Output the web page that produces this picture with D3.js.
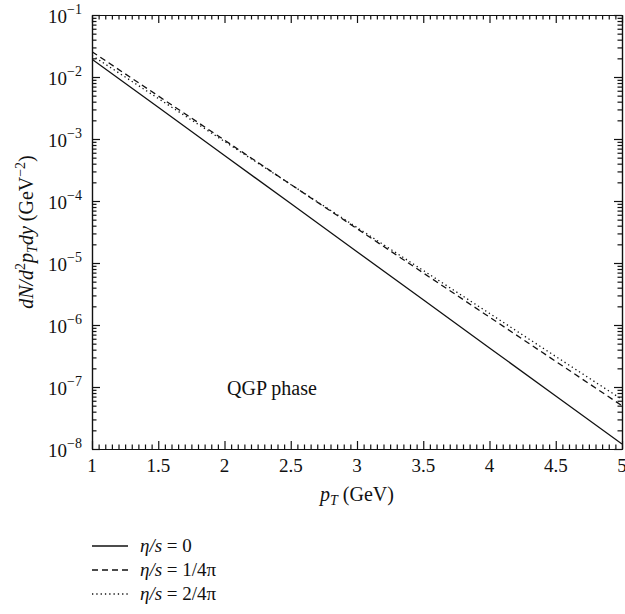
<!DOCTYPE html>
<html>
<head>
<meta charset="utf-8">
<script src="https://cdn.jsdelivr.net/npm/d3@7"></script>
<style>
  html, body { margin: 0; padding: 0; background: #fff; }
  svg { display: block; }
  text { font-family: "Liberation Serif", "DejaVu Serif", serif; fill: #111; }
</style>
</head>
<body>
<svg id="chart" width="625" height="614"></svg>
<script>
// Transverse momentum grid (GeV)
const pT = [1, 1.5, 2, 2.5, 3, 3.5, 4, 4.5, 5];

// Photon spectra dN/d^2p_T dy (GeV^-2) for three viscosities
const ideal   = [1.93e-2, 3.24e-3, 5.42e-4, 9.08e-5, 1.52e-5, 2.55e-6, 4.27e-7, 7.15e-8, 1.20e-8];
const visc1   = [2.56e-2, 4.95e-3, 9.58e-4, 1.85e-4, 3.58e-5, 6.92e-6, 1.34e-6, 2.59e-7, 5.00e-8];
const visc2   = [2.22e-2, 4.51e-3, 9.13e-4, 1.85e-4, 3.74e-5, 7.58e-6, 1.54e-6, 3.11e-7, 6.30e-8];

const seriesLabels = ["0", "1/4\u03C0", "2/4\u03C0"];
const xTicks = [1, 1.5, 2, 2.5, 3, 3.5, 4, 4.5, 5];
const xTickLabels = ["1", "1.5", "2", "2.5", "3", "3.5", "4", "4.5", "5"];
const yExponents = [-1, -2, -3, -4, -5, -6, -7, -8];

const svg = d3.select("#chart");
const plotL = 92, plotR = 622, plotT = 15, plotB = 449;

const x = d3.scaleLinear().domain([1, 5]).range([plotL, plotR]);
const y = d3.scaleLog().domain([1e-8, 1e-1]).range([plotB, plotT]);

const majorLen = 8, minorLen = 4.5;
const xMinor = d3.range(1, 5.0001, 0.05).map(v => +v.toFixed(2)).filter(v => !xTicks.includes(v));
const yMajor = yExponents.map(e => Math.pow(10, e));
const yMinor = [];
for (let e = -8; e < -1; e++) for (let m = 2; m <= 9; m++) yMinor.push(m * Math.pow(10, e));

function styleAxis(g) {
  g.selectAll("path, line").attr("stroke", "#111").attr("stroke-width", 1.2);
  g.selectAll("text").remove();
}

// frame axes on all four sides, ticks pointing inward
[[d3.axisBottom, plotB, x, xTicks, xMinor, "y"], [d3.axisTop, plotT, x, xTicks, xMinor, "y"],
 [d3.axisLeft, plotL, y, yMajor, yMinor, "x"], [d3.axisRight, plotR, y, yMajor, yMinor, "x"]]
.forEach(([fn, pos, sc, major, minor, dim]) => {
  const tr = dim === "y" ? `translate(0,${pos})` : `translate(${pos},0)`;
  svg.append("g").attr("transform", tr)
    .call(fn(sc).tickValues(major).tickSize(-majorLen).tickSizeOuter(0))
    .call(styleAxis);
  svg.append("g").attr("transform", tr)
    .call(fn(sc).tickValues(minor).tickSize(-minorLen).tickSizeOuter(0))
    .call(styleAxis);
});

// x tick labels
svg.append("g").selectAll("text").data(xTicks).join("text")
  .attr("x", d => x(d)).attr("y", 472)
  .attr("text-anchor", "middle").attr("font-size", 19)
  .text((d, i) => xTickLabels[i]);

// y tick labels as powers of ten
const yl = svg.append("g").selectAll("text").data(yExponents).join("text")
  .attr("x", 82).attr("y", d => y(Math.pow(10, d)) + 8)
  .attr("text-anchor", "end").attr("font-size", 19);
yl.append("tspan").text("10");
yl.append("tspan").attr("dy", -9).attr("font-size", 14).text(d => "\u2212" + Math.abs(d));

// data lines
const line = d3.line().x((d, i) => x(pT[i])).y(d => y(d));
const styles = [
  { data: ideal, dash: null },
  { data: visc1, dash: "6,4" },
  { data: visc2, dash: "1.3,3" }
];
svg.append("defs").append("clipPath").attr("id", "plotclip")
  .append("rect").attr("x", plotL).attr("y", plotT).attr("width", plotR - plotL).attr("height", plotB - plotT);
styles.forEach(s => {
  svg.append("path").datum(s.data)
    .attr("clip-path", "url(#plotclip)")
    .attr("fill", "none").attr("stroke", "#111").attr("stroke-width", 1.3)
    .attr("stroke-dasharray", s.dash)
    .attr("d", line);
});

// annotation
svg.append("text").attr("x", 227).attr("y", 395).attr("font-size", 20).text("QGP phase");

// x axis title
const xt = svg.append("text").attr("x", 357).attr("y", 501).attr("text-anchor", "middle").attr("font-size", 20);
xt.append("tspan").attr("font-style", "italic").text("p");
xt.append("tspan").attr("font-style", "italic").attr("font-size", 14).attr("dy", 4).text("T");
xt.append("tspan").attr("dy", -4).text(" (GeV)");

// y axis title
const yt = svg.append("text").attr("transform", "translate(33,232) rotate(-90)")
  .attr("text-anchor", "middle").attr("font-size", 20);
yt.append("tspan").attr("font-style", "italic").text("dN/d");
yt.append("tspan").attr("font-size", 14).attr("dy", -8).text("2");
yt.append("tspan").attr("font-style", "italic").attr("dy", 8).text("p");
yt.append("tspan").attr("font-style", "italic").attr("font-size", 14).attr("dy", 4).text("T");
yt.append("tspan").attr("font-style", "italic").attr("dy", -4).text("dy");
yt.append("tspan").text(" (GeV");
yt.append("tspan").attr("font-size", 14).attr("dy", -8).text("\u22122");
yt.append("tspan").attr("dy", 8).text(")");

// legend
const legend = svg.append("g");
styles.forEach((s, i) => {
  const ly = 546 + i * 24;
  legend.append("line").attr("x1", 92).attr("x2", 128).attr("y1", ly).attr("y2", ly)
    .attr("stroke", "#111").attr("stroke-width", 1.3).attr("stroke-dasharray", s.dash);
  const t = legend.append("text").attr("x", 140).attr("y", ly + 6).attr("font-size", 19);
  t.append("tspan").attr("font-style", "italic").text("\u03B7/s");
  t.append("tspan").text(" = " + seriesLabels[i]);
});
</script>
</body>
</html>
